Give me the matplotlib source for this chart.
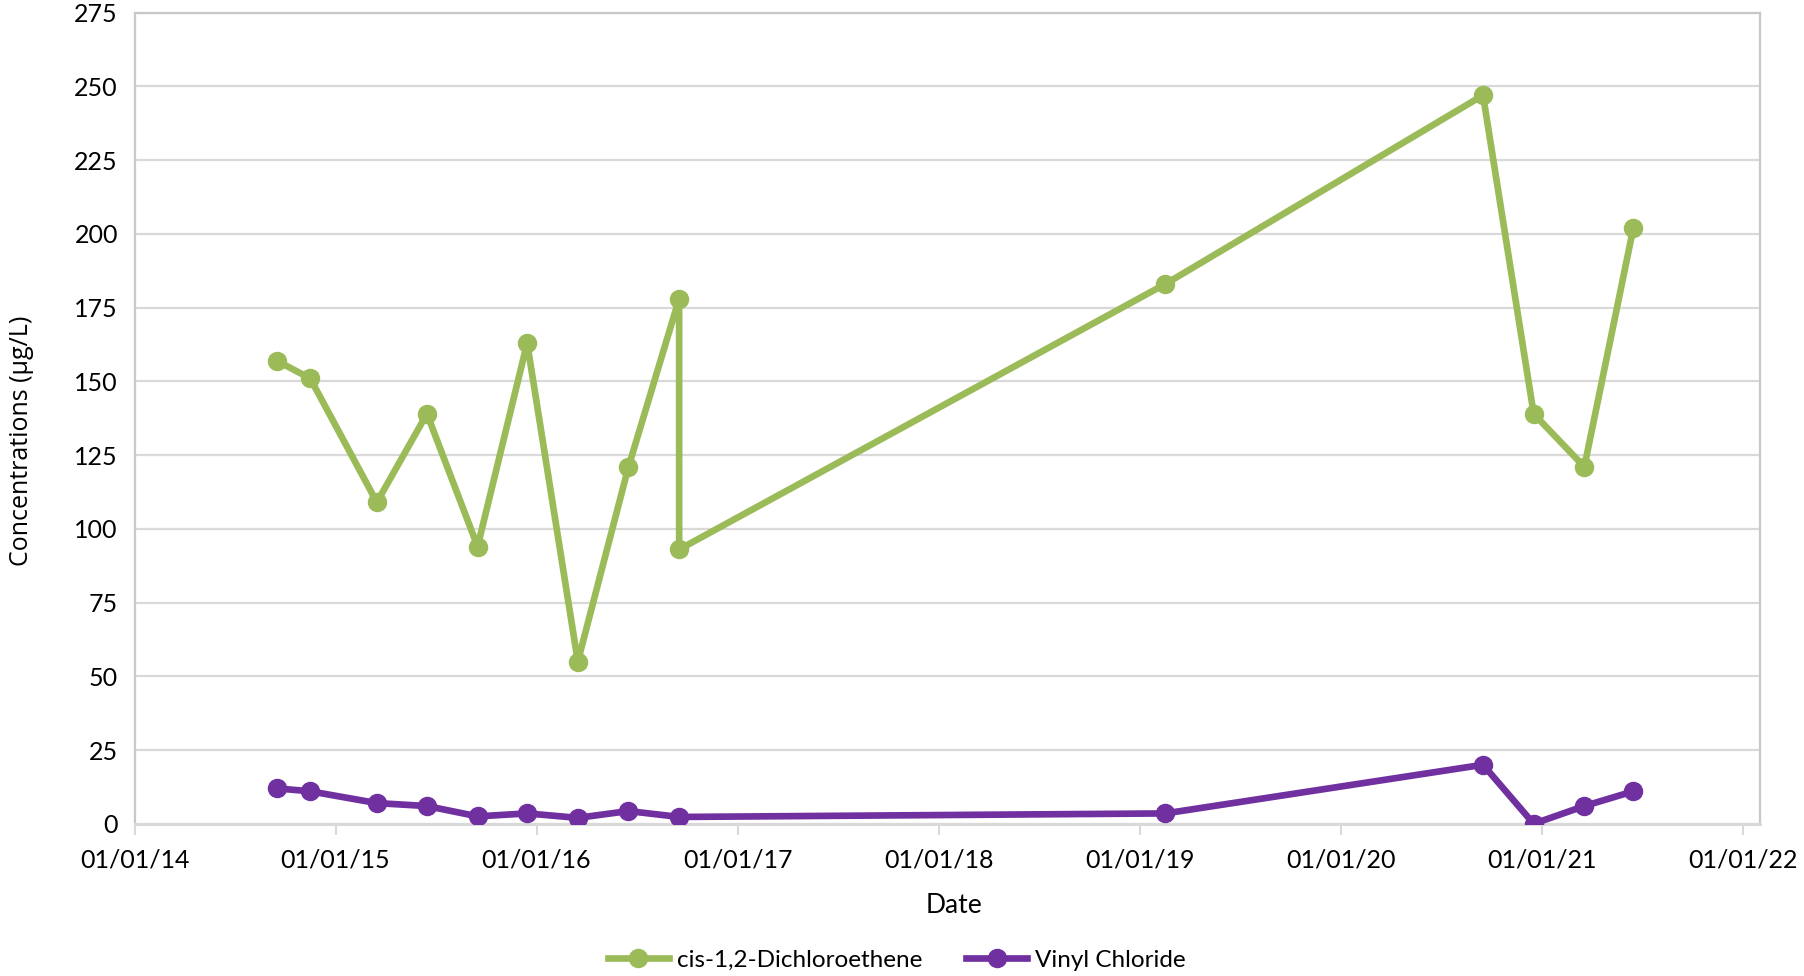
import numpy as np
import pandas as pd
import matplotlib
matplotlib.use("Agg")
import matplotlib.pyplot as plt
import matplotlib.dates as mdates

dates_dce = ["2014-09-16", "2014-11-16", "2015-03-17", "2015-06-16", "2015-09-16",
             "2015-12-15", "2016-03-16", "2016-06-16", "2016-09-16", "2016-09-16",
             "2019-02-16", "2020-09-15", "2020-12-16", "2021-03-18", "2021-06-15"]
dce = [157, 151, 109, 139, 94, 163, 55, 121, 178, 93, 183, 247, 139, 121, 202]

dates_vc = ["2014-09-16", "2014-11-16", "2015-03-17", "2015-06-16", "2015-09-16",
            "2015-12-15", "2016-03-16", "2016-06-16", "2016-09-16",
            "2019-02-16", "2020-09-15", "2020-12-16", "2021-03-18", "2021-06-15"]
vc = [12, 11, 7, 6, 2.5, 3.5, 2, 4.3, 2.3, 3.5, 20, 0, 6, 11]

year_ticks = ["2014-01-01", "2015-01-01", "2016-01-01", "2017-01-01", "2018-01-01",
              "2019-01-01", "2020-01-01", "2021-01-01", "2022-01-01"]

plt.rcParams['font.family'] = ['Lato', 'DejaVu Sans']

fig = plt.figure(figsize=(18.04, 9.76), dpi=100)
ax = fig.add_axes([0.0746, 0.156, 0.901, 0.831])

ax.plot(pd.to_datetime(dates_dce), dce, color="#9BBB59", lw=4.8, marker="o",
        ms=13, label="cis-1,2-Dichloroethene", zorder=3)
ax.plot(pd.to_datetime(dates_vc), vc, color="#7030A0", lw=4.8, marker="o",
        ms=13, label="Vinyl Chloride", zorder=3)

ax.set_ylim(0, 275)
ax.set_yticks(np.arange(0, 276, 25))
ax.set_xlim(pd.Timestamp("2014-01-01"), pd.Timestamp("2022-01-31"))
ax.set_xticks(pd.to_datetime(year_ticks))
ax.xaxis.set_major_formatter(mdates.DateFormatter("%m/%d/%y"))

ax.grid(axis="y", color="#D9D9D9", lw=1.6, zorder=0)
for s in ["top", "right", "left"]:
    ax.spines[s].set_color("#C8C8C8")
    ax.spines[s].set_linewidth(1.6)
ax.spines["bottom"].set_color("#D9D9D9")
ax.spines["bottom"].set_linewidth(2.2)
ax.tick_params(axis="y", length=0, labelsize=18, pad=12)
ax.tick_params(axis="x", length=8, width=1.5, color="#D9D9D9", labelsize=18, pad=10)

ax.set_xlabel("Date", fontsize=19, labelpad=14)
ax.xaxis.set_label_coords(0.504, -0.085)
ax.set_ylabel("Concentrations (µg/L)", fontsize=18, family=["Open Sans", "DejaVu Sans"])
ax.yaxis.set_label_coords(-0.062, 0.472)

ax.legend(loc="center", bbox_to_anchor=(0.469, -0.168), ncol=2, frameon=False,
          fontsize=17.5, handlelength=2.5, columnspacing=1.8, handletextpad=0.35)

fig.savefig("out.png", dpi=100)
